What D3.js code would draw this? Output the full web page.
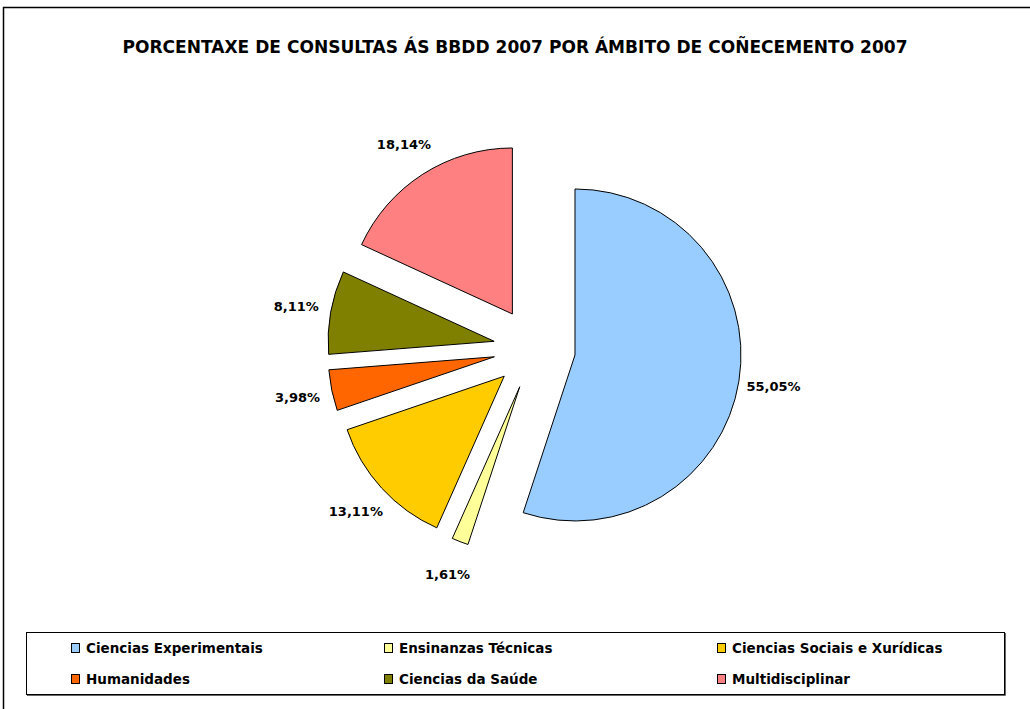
<!DOCTYPE html>
<html>
<head>
<meta charset="utf-8">
<script src="https://cdn.jsdelivr.net/npm/d3@7"></script>
<style>
  body { margin: 0; background: #fff; }
  text { font-family: "DejaVu Sans", Verdana, sans-serif; font-weight: bold; }
</style>
</head>
<body>
<svg id="chart" width="1030" height="709"></svg>
<script>
const title = "PORCENTAXE DE CONSULTAS ÁS BBDD 2007 POR ÁMBITO DE COÑECEMENTO 2007";
const categories = ["Ciencias Experimentais", "Ensinanzas Técnicas", "Ciencias Sociais e Xurídicas",
  "Humanidades", "Ciencias da Saúde", "Multidisciplinar"];
const values = [55.05, 1.61, 13.11, 3.98, 8.11, 18.14];
const labels = ["55,05%", "1,61%", "13,11%", "3,98%", "8,11%", "18,14%"];
const colors = ["#99CCFF", "#FFFF99", "#FFCC00", "#FF6600", "#808000", "#FF8080"];

const svg = d3.select("#chart");

// outer chart frame (cropped at right/bottom in the reference)
svg.append("path")
  .attr("d", "M3.5,720V7.5H1040")
  .attr("fill", "none")
  .attr("stroke", "#000")
  .attr("stroke-width", 1.5);

svg.append("text")
  .attr("x", 515)
  .attr("y", 53)
  .attr("text-anchor", "middle")
  .attr("font-size", 17)
  .attr("textLength", 785)
  .attr("lengthAdjust", "spacingAndGlyphs")
  .text(title);

const cx = 534.5, cy = 348.5, r = 166, explode = 41, labelR = 201;

const pie = d3.pie().sort(null).value(d => d)(values);
const arc = d3.arc().innerRadius(0).outerRadius(r);

const g = svg.append("g").attr("transform", `translate(${cx},${cy})`);

const slices = g.selectAll("g.slice")
  .data(pie)
  .join("g")
  .attr("class", "slice")
  .attr("transform", d => {
    const a = (d.startAngle + d.endAngle) / 2;
    return `translate(${Math.sin(a) * explode},${-Math.cos(a) * explode})`;
  });

slices.append("path")
  .attr("d", arc)
  .attr("fill", (d, i) => colors[i])
  .attr("stroke", "#000")
  .attr("stroke-width", 1);

slices.append("text")
  .attr("x", d => Math.sin((d.startAngle + d.endAngle) / 2) * labelR)
  .attr("y", d => -Math.cos((d.startAngle + d.endAngle) / 2) * labelR)
  .attr("dy", "0.35em")
  .attr("text-anchor", "middle")
  .attr("font-size", 13)
  .text((d, i) => labels[i]);

// legend
const legend = svg.append("g");
legend.append("rect")
  .attr("x", 26.5).attr("y", 632.5)
  .attr("width", 978).attr("height", 62)
  .attr("fill", "none")
  .attr("stroke", "#000")
  .attr("stroke-width", 1);
legend.append("path")
  .attr("d", "M27,695.5H1005.5V633")
  .attr("fill", "none")
  .attr("stroke", "#666")
  .attr("stroke-width", 1);

const colX = [71, 384, 717];
const rowY = [648, 679];

const items = legend.selectAll("g.item")
  .data(categories)
  .join("g")
  .attr("class", "item")
  .attr("transform", (d, i) => `translate(${colX[i % 3]},${rowY[Math.floor(i / 3)]})`);

items.append("rect")
  .attr("x", 0.5).attr("y", -4.5)
  .attr("width", 8).attr("height", 9)
  .attr("fill", (d, i) => colors[i])
  .attr("stroke", "#000");

items.append("text")
  .attr("x", 15)
  .attr("dy", "0.35em")
  .attr("font-size", 13.5)
  .text(d => d);
</script>
</body>
</html>
